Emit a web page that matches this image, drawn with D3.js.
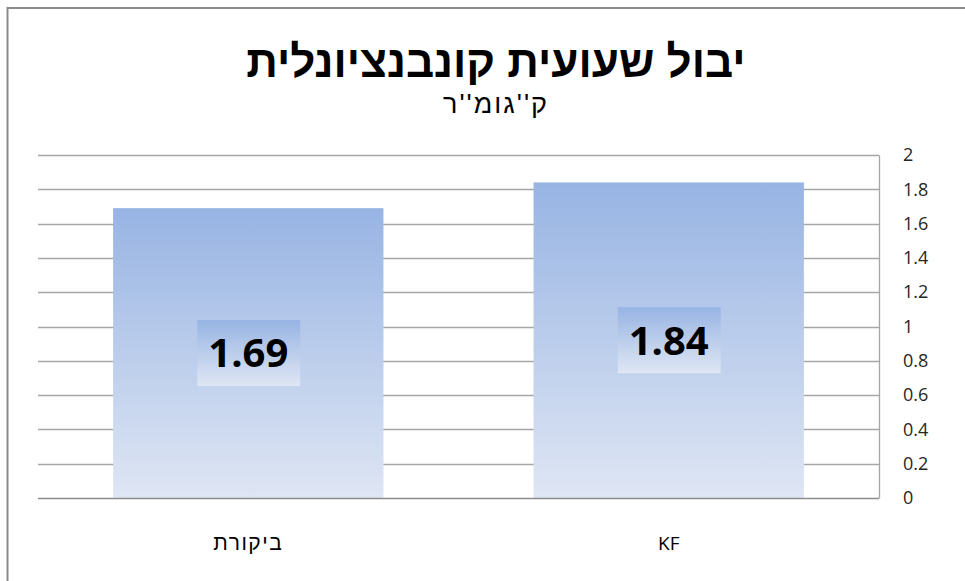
<!DOCTYPE html>
<html>
<head>
<meta charset="utf-8">
<script src="https://cdn.jsdelivr.net/npm/d3@7"></script>
<style>
  body { margin: 0; background: #fff; }
  text { font-family: "Open Sans", "Liberation Sans", sans-serif; }
  .heb { font-family: "Liberation Sans", "DejaVu Sans", sans-serif; }
</style>
</head>
<body>
<svg id="chart" width="965" height="581"></svg>
<script>
// chart data
var categories = ['ביקורת', 'KF'];
var values = [1.69, 1.84];
var yTicks = [0, 0.2, 0.4, 0.6, 0.8, 1, 1.2, 1.4, 1.6, 1.8, 2];
var titleText = 'יבול שעועית קונבנציונלית';
var subtitleText = "ק''גומ''ר";

var svg = d3.select('#chart');
var plotLeft = 38, plotRight = 879, plotTop = 155, plotBottom = 498;

// outer frame
svg.append('rect')
    .attr('x', 7.5).attr('y', 8)
    .attr('width', 970).attr('height', 590)
    .attr('fill', '#fff')
    .attr('stroke', '#8c8c8c')
    .attr('stroke-width', 2);

var defs = svg.append('defs');
var grad = defs.append('linearGradient')
    .attr('id', 'barGrad')
    .attr('x1', 0).attr('y1', 0).attr('x2', 0).attr('y2', 1);
grad.append('stop').attr('offset', '0%').attr('stop-color', '#97b4e3');
grad.append('stop').attr('offset', '100%').attr('stop-color', '#dfe6f4');

var x = d3.scaleBand()
    .domain(categories)
    .range([plotLeft, plotRight])
    .paddingInner(0.357)
    .paddingOuter(0.1786);

var y = d3.scaleLinear()
    .domain([0, 2])
    .range([plotBottom, plotTop]);

// gridlines
svg.append('g')
    .selectAll('line')
    .data(yTicks.slice(1))
    .enter().append('line')
    .attr('x1', plotLeft).attr('x2', plotRight)
    .attr('y1', function(d) { return Math.round(y(d)) + 0.5; })
    .attr('y2', function(d) { return Math.round(y(d)) + 0.5; })
    .attr('stroke', '#a6a6a6')
    .attr('stroke-width', 1.3);

// right axis
var yAxis = d3.axisRight(y)
    .tickValues(yTicks)
    .tickSize(0)
    .tickPadding(24)
    .tickFormat(function(d) { return String(+d.toFixed(1)); });

var ax = svg.append('g')
    .attr('transform', 'translate(' + plotRight + ',0)')
    .call(yAxis);
ax.attr('font-family', null).attr('font-size', null);
ax.select('.domain').attr('stroke', '#a6a6a6').attr('stroke-width', 1.3);
ax.selectAll('text')
    .attr('fill', '#262626')
    .style('font-size', '18px');

// bars
svg.append('g')
    .selectAll('rect')
    .data(values)
    .enter().append('rect')
    .attr('x', function(d, i) { return x(categories[i]); })
    .attr('y', function(d) { return y(d); })
    .attr('width', x.bandwidth())
    .attr('height', function(d) { return plotBottom - y(d); })
    .attr('fill', 'url(#barGrad)');

// bottom axis line
svg.append('line')
    .attr('x1', plotLeft).attr('x2', plotRight)
    .attr('y1', plotBottom + 0.5).attr('y2', plotBottom + 0.5)
    .attr('stroke', '#8c8c8c')
    .attr('stroke-width', 1.5);

// value labels with gradient boxes
var labels = svg.append('g')
    .selectAll('g')
    .data(values)
    .enter().append('g')
    .attr('transform', function(d, i) {
      var cx = x(categories[i]) + x.bandwidth() / 2;
      var cy = (y(d) + plotBottom) / 2;
      return 'translate(' + cx + ',' + cy + ')';
    });

labels.append('rect')
    .attr('x', -51).attr('y', -33)
    .attr('width', 103).attr('height', 66)
    .attr('fill', 'url(#barGrad)');

labels.append('text')
    .attr('text-anchor', 'middle')
    .attr('dy', '0.36em')
    .style('font-size', '40px')
    .style('font-weight', 'bold')
    .attr('fill', '#000')
    .text(function(d) { return d3.format('.2f')(d); });

// category labels
svg.append('g')
    .selectAll('text')
    .data(categories)
    .enter().append('text')
    .attr('class', function(d, i) { return i === 0 ? 'heb' : null; })
    .attr('x', function(d) { return x(d) + x.bandwidth() / 2; })
    .attr('y', 550)
    .attr('text-anchor', 'middle')
    .style('font-size', function(d, i) { return i === 0 ? '21px' : '19px'; })
    .style('letter-spacing', function(d, i) { return i === 0 ? '1.5px' : null; })
    .attr('fill', '#000')
    .text(function(d) { return d; });

// titles
svg.append('text')
    .attr('class', 'heb')
    .attr('x', 496).attr('y', 77)
    .attr('text-anchor', 'middle')
    .style('font-size', '44px')
    .style('font-weight', 'bold')
    .text(titleText);

svg.append('text')
    .attr('class', 'heb')
    .attr('x', 496).attr('y', 113)
    .attr('text-anchor', 'middle')
    .style('font-size', '27px')
    .style('letter-spacing', '2px')
    .text(subtitleText);
</script>
</body>
</html>
